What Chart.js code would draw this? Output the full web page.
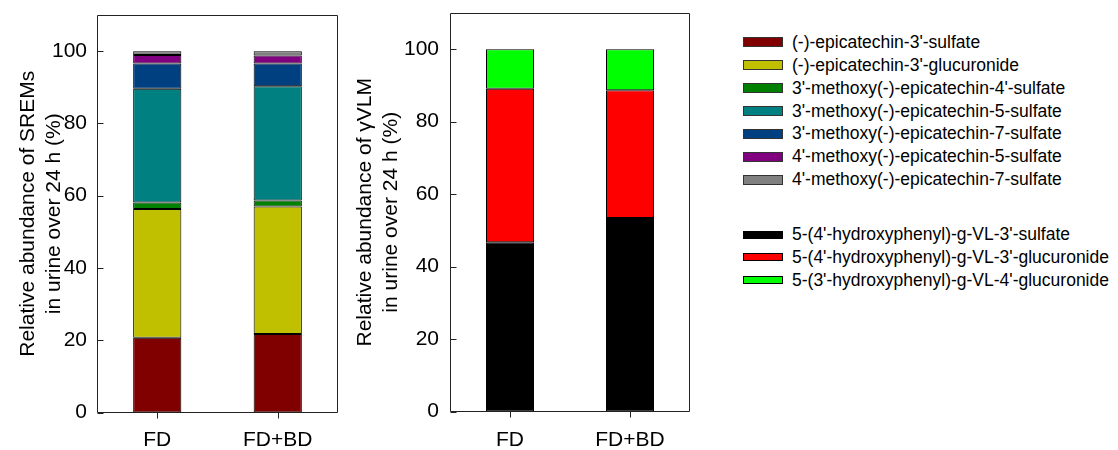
<!DOCTYPE html>
<html>
<head>
<meta charset="utf-8">
<title>Relative abundance of SREMs and γVLM</title>
<script src="https://cdn.jsdelivr.net/npm/chart.js@4"></script>
<style>
  body { margin: 0; background: #fff; }
  #wrap { position: relative; width: 1118px; height: 450px; overflow: hidden; font-family: "Liberation Sans", Arial, sans-serif; }
  canvas { position: absolute; top: 0; }
  #srem { left: 0; }
  #vlm { left: 345px; }
  .row { position: absolute; left: 743px; height: 22px; display: flex; align-items: center; font-size: 17.5px; color: #000; white-space: nowrap; }
  .sw { width: 40px; box-sizing: border-box; margin-right: 9px; }
</style>
</head>
<body>
<div id="wrap">
  <canvas id="srem" width="345" height="450"></canvas>
  <canvas id="vlm" width="352" height="450"></canvas>
</div>
<script>
// groups on the x axis
const groups = ["FD", "FD+BD"];
const yTicks = [0, 20, 40, 60, 80, 100];

// left panel: SREMs (%)
const sremNames = [
  "(-)-epicatechin-3'-sulfate",
  "(-)-epicatechin-3'-glucuronide",
  "3'-methoxy(-)-epicatechin-4'-sulfate",
  "3'-methoxy(-)-epicatechin-5-sulfate",
  "3'-methoxy(-)-epicatechin-7-sulfate",
  "4'-methoxy(-)-epicatechin-5-sulfate",
  "4'-methoxy(-)-epicatechin-7-sulfate"
];
const sremColors = ["#800000", "#c0c000", "#008000", "#008080", "#004080", "#800080", "#808080"];
const ec3Sulfate = [20.7, 21.7];
const ec3Glucuronide = [35.6, 35.3];
const me3ec4Sulfate = [1.8, 1.7];
const me3ec5Sulfate = [31.5, 31.6];
const me3ec7Sulfate = [7.0, 6.3];
const me4ec5Sulfate = [2.3, 2.2];
const me4ec7Sulfate = [1.1, 1.2];

// right panel: gamma-VLM (%)
const vlmNames = [
  "5-(4'-hydroxyphenyl)-g-VL-3'-sulfate",
  "5-(4'-hydroxyphenyl)-g-VL-3'-glucuronide",
  "5-(3'-hydroxyphenyl)-g-VL-4'-glucuronide"
];
const vlmColors = ["#000000", "#ff0000", "#00ff00"];
const vlm3Sulfate = [46.7, 53.4];
const vlm3Glucuronide = [42.4, 35.3];
const vlm4Glucuronide = [10.9, 11.3];

const FONT = "'Liberation Sans', Arial, sans-serif";

// box around the plot, y ticks pointing in, x ticks pointing out
const framePlugin = {
  id: "frame",
  afterDatasetsDraw(chart) {
    const { ctx, chartArea: a } = chart;
    const x = chart.scales.x, y = chart.scales.y;
    const l = Math.round(a.left) + 0.5, r = Math.round(a.right) - 0.5;
    const t = Math.round(a.top) + 0.5, b = Math.round(a.bottom) - 0.5;
    ctx.save();
    ctx.strokeStyle = "#222";
    ctx.lineWidth = 1;
    ctx.beginPath();
    ctx.rect(l, t, r - l, b - t);
    y.ticks.forEach(tk => {
      const py = Math.round(y.getPixelForValue(tk.value)) + 0.5;
      ctx.moveTo(l, py);
      ctx.lineTo(l + 6, py);
    });
    x.ticks.forEach((tk, i) => {
      const px = Math.round(x.getPixelForTick(i)) + 0.5;
      ctx.moveTo(px, b);
      ctx.lineTo(px, b + 6);
    });
    ctx.stroke();
    ctx.restore();
  }
};

function makeDatasets(seriesList, names, colors) {
  return seriesList.map((data, i) => ({
    label: names[i],
    data: data,
    backgroundColor: colors[i],
    borderColor: "#000",
    borderWidth: 1,
    borderSkipped: false,
    categoryPercentage: 0.8,
    barPercentage: 0.5
  }));
}

function makeOptions(cfg) {
  return {
    responsive: false,
    animation: false,
    layout: { padding: { top: cfg.top, right: 7, left: 0, bottom: 0 } },
    plugins: { legend: { display: false }, tooltip: { enabled: false } },
    scales: {
      x: {
        stacked: true,
        grid: { display: false, drawTicks: false },
        border: { display: false },
        ticks: { color: "#000", padding: cfg.xPad, font: { family: FONT, size: 21 } },
        afterFit(s) {
          s.height = cfg.xHeight;
          s.paddingLeft = 0; s.paddingRight = 0;
        }
      },
      y: {
        stacked: true,
        min: 0,
        max: 110,
        grid: { display: false, drawTicks: false },
        border: { display: false },
        ticks: { color: "#000", padding: cfg.yPad, font: { family: FONT, size: 21 } },
        afterBuildTicks(s) {
          s.ticks = yTicks.map(v => ({ value: v }));
        },
        afterFit(s) {
          s.width = cfg.yWidth;
          s.paddingTop = 0; s.paddingBottom = 0;
        },
        title: {
          display: true,
          text: cfg.title,
          color: "#000",
          padding: { top: cfg.titlePad, bottom: 0 },
          font: { family: FONT, size: 21, lineHeight: 1.2 }
        }
      }
    }
  };
}

new Chart(document.getElementById("srem"), {
  type: "bar",
  data: {
    labels: groups,
    datasets: makeDatasets(
      [ec3Sulfate, ec3Glucuronide, me3ec4Sulfate, me3ec5Sulfate, me3ec7Sulfate, me4ec5Sulfate, me4ec7Sulfate],
      sremNames, sremColors)
  },
  options: makeOptions({
    top: 15, xHeight: 37.5, yWidth: 97, xPad: 15, yPad: 10, titlePad: 16,
    title: ["Relative abundance of SREMs", "in urine over 24 h (%)"]
  }),
  plugins: [framePlugin]
});

new Chart(document.getElementById("vlm"), {
  type: "bar",
  data: {
    labels: groups,
    datasets: makeDatasets([vlm3Sulfate, vlm3Glucuronide, vlm4Glucuronide], vlmNames, vlmColors)
  },
  options: makeOptions({
    top: 13, xHeight: 38.5, yWidth: 105, xPad: 16, yPad: 11, titlePad: 8,
    title: ["Relative abundance of γVLM", "in urine over 24 h (%)"]
  }),
  plugins: [framePlugin]
});

// html legend built from the same names / colours
function addLegend(names, colors, firstCenter, swH, border) {
  const wrap = document.getElementById("wrap");
  names.forEach((name, i) => {
    const row = document.createElement("div");
    row.className = "row";
    row.style.top = (firstCenter + i * 22.9 - 11) + "px";
    const sw = document.createElement("span");
    sw.className = "sw";
    sw.style.height = swH + "px";
    sw.style.background = colors[i];
    sw.style.border = border;
    row.appendChild(sw);
    row.appendChild(document.createTextNode(name));
    wrap.appendChild(row);
  });
}
addLegend(sremNames, sremColors, 42.3, 10, "1.5px solid #333");
addLegend(vlmNames, vlmColors, 234.5, 8, "1px solid #000");
</script>
</body>
</html>
